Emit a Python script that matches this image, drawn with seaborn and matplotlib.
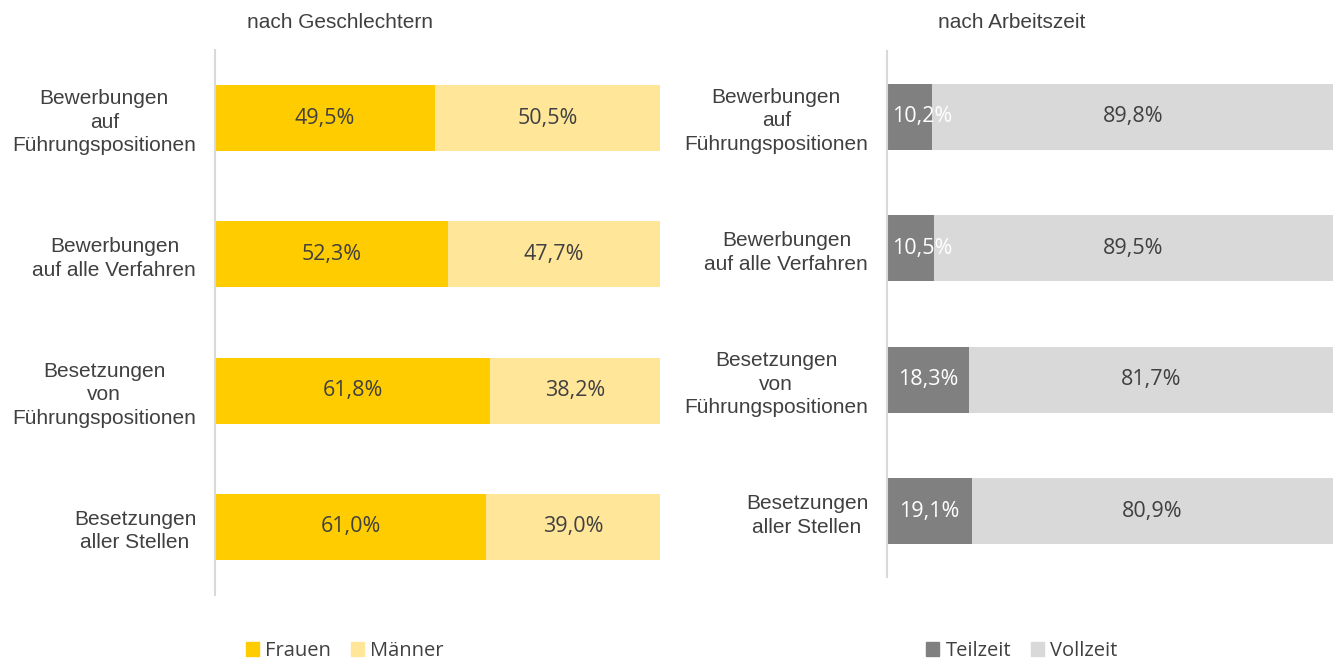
import numpy as np
import pandas as pd
import seaborn as sns
import matplotlib.pyplot as plt
from matplotlib.patches import Patch

# data
kategorien = ["Bewerbungen\nauf\nFührungspositionen",
              "Bewerbungen\nauf alle Verfahren",
              "Besetzungen\nvon\nFührungspositionen",
              "Besetzungen\naller Stellen"]
frauen = [49.5, 52.3, 61.8, 61.0]
maenner = [50.5, 47.7, 38.2, 39.0]
teilzeit = [10.2, 10.5, 18.3, 19.1]
vollzeit = [89.8, 89.5, 81.7, 80.9]

sns.set_style("white")
plt.rcParams["font.family"] = ["Liberation Sans", "DejaVu Sans"]

TXT = "#404040"
C_FRAUEN, C_MAENNER = "#FFCC00", "#FFE699"
C_TEIL, C_VOLL = "#808080", "#D9D9D9"

fig = plt.figure(figsize=(13.4, 6.64), dpi=100)
W, H = 1340, 664
ax1 = fig.add_axes([215 / W, 1 - 595 / H, 445 / W, 545 / H])
ax2 = fig.add_axes([887 / W, 1 - 577 / H, 446 / W, 526 / H])


def stacked(ax, first, second, c1, c2, width, lab1_col):
    df = pd.DataFrame({"kat": kategorien,
                       "erst": first,
                       "gesamt": np.array(first) + np.array(second)})
    sns.barplot(data=df, x="gesamt", y="kat", orient="h", color=c2,
                width=width, saturation=1, linewidth=0, ax=ax)
    sns.barplot(data=df, x="erst", y="kat", orient="h", color=c1,
                width=width, saturation=1, linewidth=0, ax=ax)
    for i, (a, b) in enumerate(zip(first, second)):
        ax.text(max(a / 2, 7.8), i, f"{a:.1f}%".replace(".", ","),
                ha="center", va="center", color=lab1_col,
                fontsize=15.5, family="Open Sans")
        ax.text(a + b / 2, i, f"{b:.1f}%".replace(".", ","),
                ha="center", va="center", color=TXT,
                fontsize=15.5, family="Open Sans")
    ax.set_xlim(0, 100)
    ax.set_ylim(len(kategorien) - 0.5, -0.5)
    ax.set_xlabel("")
    ax.set_ylabel("")
    ax.set_xticks([])
    ax.set_yticks(range(len(kategorien)))
    ax.set_yticklabels(kategorien, fontsize=15, color=TXT)
    for tl in ax.get_yticklabels():
        tl.set_multialignment("center")
        tl.set_linespacing(1.3)
    ax.tick_params(axis="y", length=0, pad=13.5)
    for s in ["top", "right", "bottom"]:
        ax.spines[s].set_visible(False)
    ax.spines["left"].set_color("#D9D9D9")
    ax.spines["left"].set_linewidth(1.5)


stacked(ax1, frauen, maenner, C_FRAUEN, C_MAENNER, 66 / 136, TXT)
stacked(ax2, teilzeit, vollzeit, C_TEIL, C_VOLL, 66 / 131, "white")

fig.text(340 / W, 1 - 22 / H, "nach Geschlechtern", ha="center", va="center",
         fontsize=15, color=TXT)
fig.text(1012 / W, 1 - 22 / H, "nach Arbeitszeit", ha="center", va="center",
         fontsize=15, color=TXT)

leg_kw = dict(loc="center", ncol=2, frameon=False, handlelength=0.65,
              handleheight=0.65, handletextpad=0.3, columnspacing=1.0,
              borderpad=0, prop={"family": "Open Sans", "size": 14.5},
              labelcolor=TXT)
fig.legend(handles=[Patch(color=C_FRAUEN, label="Frauen"),
                    Patch(color=C_MAENNER, label="Männer")],
           bbox_to_anchor=(345 / W, 1 - 651 / H), **leg_kw)
fig.legend(handles=[Patch(color=C_TEIL, label="Teilzeit"),
                    Patch(color=C_VOLL, label="Vollzeit")],
           bbox_to_anchor=(1022 / W, 1 - 651 / H), **leg_kw)

plt.savefig("out.png", dpi=100)
